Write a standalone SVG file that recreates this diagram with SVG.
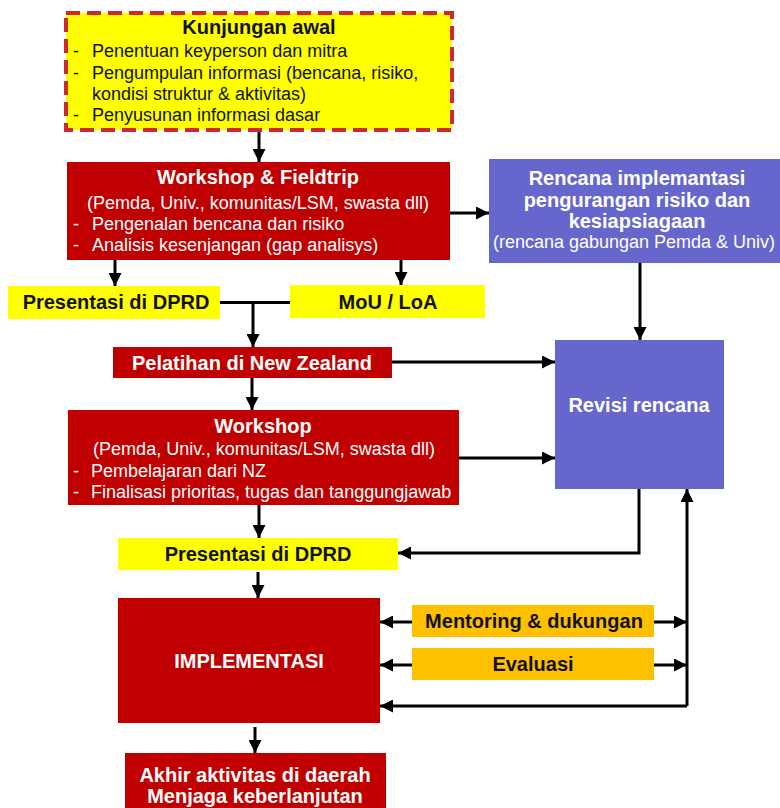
<svg xmlns="http://www.w3.org/2000/svg" width="780" height="808" viewBox="0 0 780 808">
  <style>
    text { font-family: "Liberation Sans", Arial, sans-serif; }
    .b { font-weight: bold; font-size: 20px; }
    .r { font-size: 18px; }
    .mid { text-anchor: middle; }
    .w { fill: #ffffff; }
    .k { fill: #111111; }
    .red { fill: #c00000; }
    .yel { fill: #ffff00; }
    .org { fill: #ffc000; }
    .blu { fill: #6666cc; }
    .conn { fill: none; stroke: #000000; stroke-width: 3; }
  </style>
  <defs>
    <marker id="arrow" viewBox="0 0 10 10" refX="10" refY="5" markerUnits="userSpaceOnUse" markerWidth="14" markerHeight="13" orient="auto">
      <path d="M0,0 L10,5 L0,10 z" fill="#000000"/>
    </marker>
  </defs>

  <!-- nodes -->
  <g id="kunjungan-awal">
    <rect x="66" y="13" width="386" height="117" fill="#ffff00" stroke="#d02828" stroke-width="4" stroke-dasharray="14 7"/>
    <text class="b k mid" x="259" y="34">Kunjungan awal</text>
    <text class="r k" x="73" y="57">-</text>
    <text class="r k" x="92" y="57">Penentuan keyperson dan mitra</text>
    <text class="r k" x="73" y="79">-</text>
    <text class="r k" x="92" y="79">Pengumpulan informasi (bencana, risiko,</text>
    <text class="r k" x="92" y="100">kondisi struktur &amp; aktivitas)</text>
    <text class="r k" x="73" y="121">-</text>
    <text class="r k" x="92" y="121">Penyusunan informasi dasar</text>
  </g>

  <g id="workshop-fieldtrip">
    <rect class="red" x="67" y="162" width="383" height="98"/>
    <text class="b w mid" x="258" y="184">Workshop &amp; Fieldtrip</text>
    <text class="r w mid" x="258" y="209">(Pemda, Univ., komunitas/LSM, swasta dll)</text>
    <text class="r w" x="73" y="230">-</text>
    <text class="r w" x="92" y="230">Pengenalan bencana dan risiko</text>
    <text class="r w" x="73" y="251">-</text>
    <text class="r w" x="92" y="251">Analisis kesenjangan (gap analisys)</text>
  </g>

  <g id="rencana-implementasi">
    <rect class="blu" x="489" y="159" width="291" height="104"/>
    <text class="b w mid" x="637" y="185">Rencana implemantasi</text>
    <text class="b w mid" x="637" y="207">pengurangan risiko dan</text>
    <text class="b w mid" x="637" y="228">kesiapsiagaan</text>
    <text class="r w mid" x="634" y="248">(rencana gabungan Pemda &amp; Univ)</text>
  </g>

  <g id="presentasi-dprd-1">
    <rect class="yel" x="8" y="286" width="212" height="33"/>
    <text class="b k mid" x="116" y="309">Presentasi di DPRD</text>
  </g>

  <g id="mou-loa">
    <rect class="yel" x="290" y="285" width="195" height="33"/>
    <text class="b k mid" x="388" y="309">MoU / LoA</text>
  </g>

  <g id="pelatihan-nz">
    <rect class="red" x="113" y="347" width="279" height="31"/>
    <text class="b w mid" x="252" y="370">Pelatihan di New Zealand</text>
  </g>

  <g id="revisi-rencana">
    <rect class="blu" x="555" y="340" width="169" height="149"/>
    <text class="b w mid" x="639" y="412">Revisi rencana</text>
  </g>

  <g id="workshop">
    <rect class="red" x="68" y="410" width="391" height="95"/>
    <text class="b w mid" x="263" y="433">Workshop</text>
    <text class="r w mid" x="264" y="455">(Pemda, Univ., komunitas/LSM, swasta dll)</text>
    <text class="r w" x="73" y="477">-</text>
    <text class="r w" x="91" y="477">Pembelajaran dari NZ</text>
    <text class="r w" x="73" y="498">-</text>
    <text class="r w" x="91" y="498">Finalisasi prioritas, tugas dan tanggungjawab</text>
  </g>

  <g id="presentasi-dprd-2">
    <rect class="yel" x="118" y="538" width="280" height="32"/>
    <text class="b k mid" x="258" y="561">Presentasi di DPRD</text>
  </g>

  <g id="implementasi">
    <rect class="red" x="118" y="598" width="262" height="125"/>
    <text class="b w mid" x="249" y="668">IMPLEMENTASI</text>
  </g>

  <g id="mentoring">
    <rect class="org" x="412" y="605" width="242" height="32"/>
    <text class="b k mid" x="534" y="628">Mentoring &amp; dukungan</text>
  </g>

  <g id="evaluasi">
    <rect class="org" x="412" y="648" width="242" height="32"/>
    <text class="b k mid" x="533" y="671">Evaluasi</text>
  </g>

  <g id="akhir-aktivitas">
    <rect class="red" x="125" y="753" width="261" height="60"/>
    <text class="b w mid" x="255" y="782">Akhir aktivitas di daerah</text>
    <text class="b w mid" x="255" y="803">Menjaga keberlanjutan</text>
  </g>

  <!-- connectors -->
  <g id="connectors">
    <path class="conn" d="M259,132 V162" marker-end="url(#arrow)"/>
    <path class="conn" d="M115,260 V286" marker-end="url(#arrow)"/>
    <path class="conn" d="M401,260 V285" marker-end="url(#arrow)"/>
    <path class="conn" d="M450,213 H489" marker-end="url(#arrow)"/>
    <path class="conn" d="M220,302.5 H290"/>
    <path class="conn" d="M253,302.5 V347" marker-end="url(#arrow)"/>
    <path class="conn" d="M640,263 V340" marker-end="url(#arrow)"/>
    <path class="conn" d="M392,362 H555" marker-end="url(#arrow)"/>
    <path class="conn" d="M252,378 V410" marker-end="url(#arrow)"/>
    <path class="conn" d="M459,458 H555" marker-end="url(#arrow)"/>
    <path class="conn" d="M259,505 V538" marker-end="url(#arrow)"/>
    <path class="conn" d="M639,489 V553 H398" marker-end="url(#arrow)"/>
    <path class="conn" d="M258,572 V598" marker-end="url(#arrow)"/>
    <path class="conn" d="M255,727 V753" marker-end="url(#arrow)"/>
    <path class="conn" d="M412,622 H380" marker-end="url(#arrow)"/>
    <path class="conn" d="M412,665 H380" marker-end="url(#arrow)"/>
    <path class="conn" d="M654,622 H687" marker-end="url(#arrow)"/>
    <path class="conn" d="M654,665 H687" marker-end="url(#arrow)"/>
    <path class="conn" d="M687,706 V489" marker-end="url(#arrow)"/>
    <path class="conn" d="M687,706 H380" marker-end="url(#arrow)"/>
  </g>
</svg>
